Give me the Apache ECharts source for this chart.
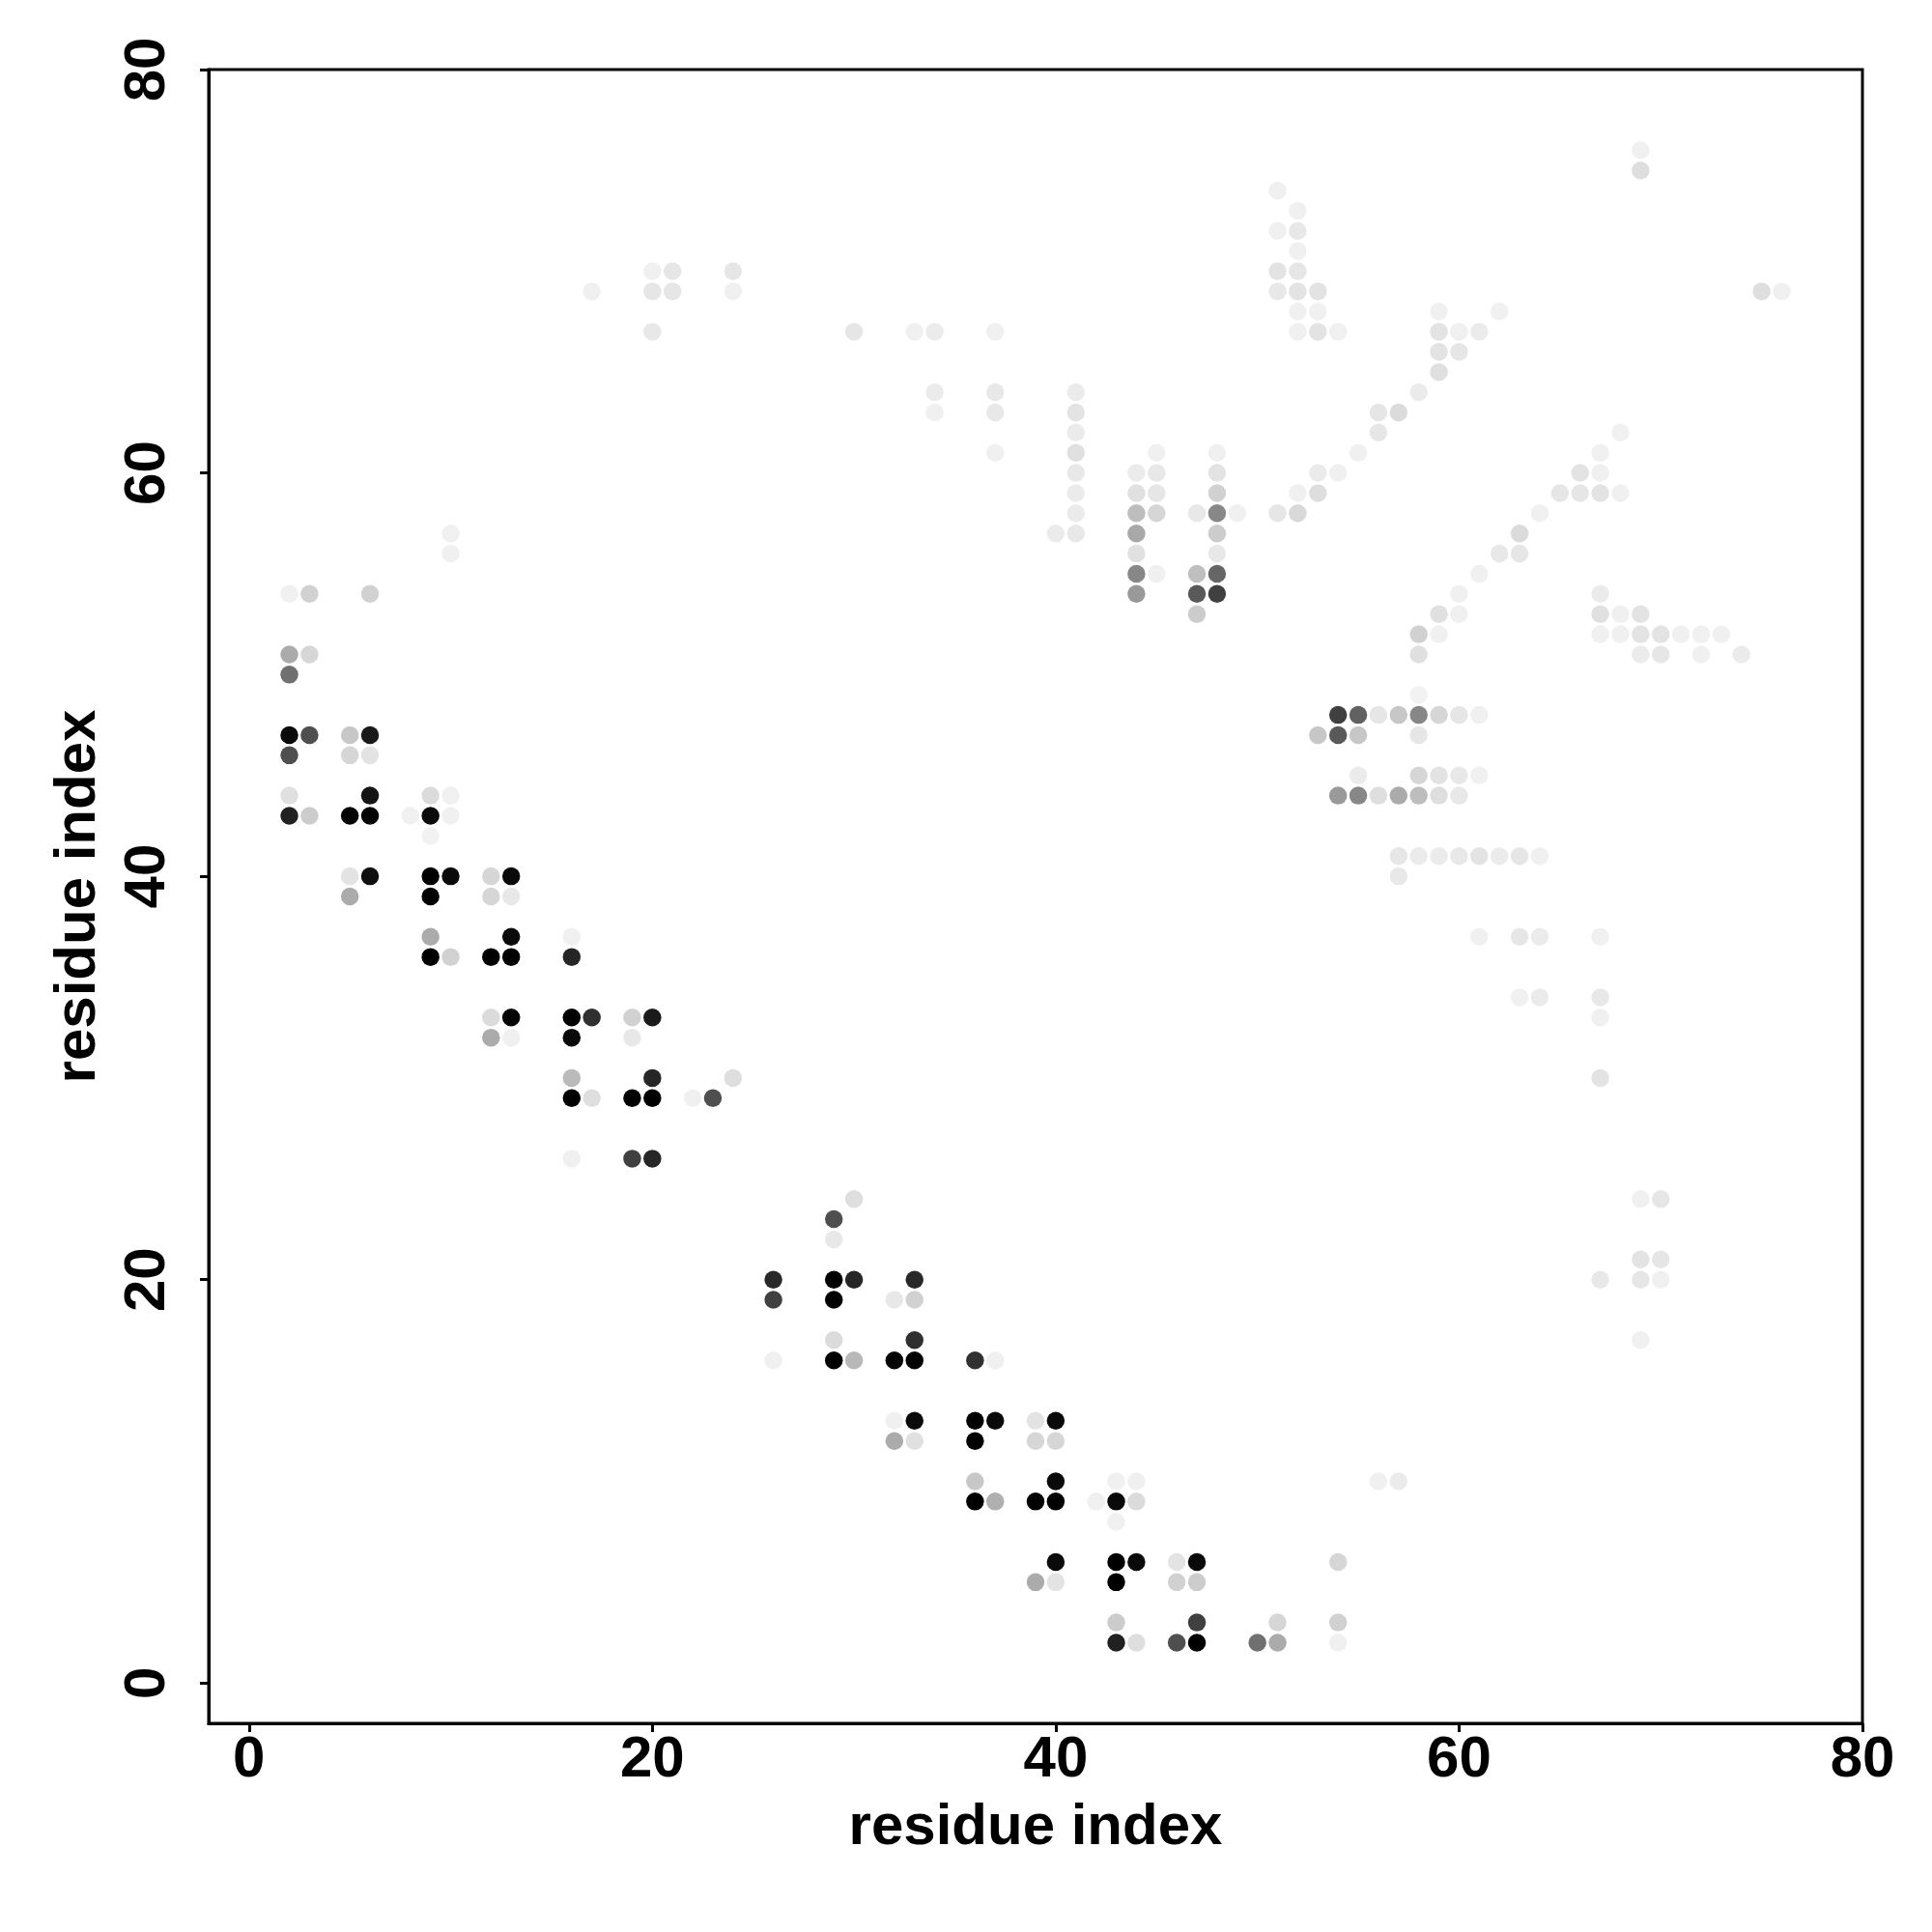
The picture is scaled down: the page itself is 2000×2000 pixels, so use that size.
<!DOCTYPE html>
<html>
<head>
<meta charset="utf-8">
<script src="https://cdn.jsdelivr.net/npm/echarts@6/dist/echarts.min.js"></script>
<style>html,body{margin:0;padding:0;background:#fff}#c{width:2000px;height:2000px}</style>
</head>
<body>
<div id="c"></div>
<script>
// residue i (x), residue j (y), contact frequency (darkness 0..1)
const residueI = [
  20,21,24,17,20,21,24,20,10,10,2,3,6,
  51,52,51,52,52,51,52,51,52,53,52,53,52,53,54,30,33,34,37,34,34,37,37,37,41,41,41,41,41,41,41,41,40,45,44,45,44,45,44,45,44,44,44,45,44,48,48,48,47,48,49,48,48,47,48,47,48,47,53,54,52,53,51,52,
  69,69,75,76,59,62,59,60,61,59,60,59,58,56,57,56,55,68,67,66,67,65,66,67,68,64,63,62,63,61,60,59,60,67,67,68,69,
  58,59,67,68,69,70,71,72,73,58,69,70,72,74,58,54,55,56,57,58,59,60,61,53,54,55,58,55,58,59,60,61,54,55,56,57,58,59,60,57,58,59,60,61,62,63,64,57,61,63,64,67,63,64,67,67,67,
  69,70,69,70,67,69,70,69,56,57,54,54,54,
  2,3,2,2,3,2,5,6,5,6,2,2,3,6,5,6,9,10,8,9,10,9,5,6,5,9,10,9,12,13,12,13,9,9,10,13,12,13,16,16,12,13,12,13,16,17,16,19,20,19,16,16,17,20,19,20,22,23,24,16,19,20,
  30,29,29,26,26,29,30,29,33,32,33,26,29,29,30,33,32,33,36,37,32,33,32,33,36,37,36,39,40,39,40,36,36,37,40,39,40,42,43,43,44,44,43,40,39,40,43,44,43,46,47,46,47,43,43,44,47,46,47,51,50,51
];
const residueJ = [
  70,70,70,69,69,69,69,67,57,56,54,54,54,
  74,73,72,72,71,70,70,69,69,69,68,68,67,67,67,67,67,67,67,64,63,64,63,61,64,63,62,61,60,59,58,57,57,61,60,60,59,59,58,58,57,56,55,55,54,61,60,59,58,58,58,57,56,55,55,54,54,53,60,60,59,59,58,58,
  76,75,69,69,68,68,67,67,67,66,66,65,64,63,63,62,61,62,61,60,60,59,59,59,59,58,57,56,56,55,54,53,53,54,53,53,53,
  52,52,52,52,52,52,52,52,52,51,51,51,51,51,49,48,48,48,48,48,48,48,48,47,47,47,47,45,45,45,45,45,44,44,44,44,44,44,44,41,41,41,41,41,41,41,41,40,37,37,37,37,34,34,34,33,30,
  24,24,21,21,20,20,20,17,10,10,6,3,2,
  51,51,50,47,47,46,47,47,46,46,44,43,43,44,43,43,44,44,43,43,43,42,40,40,39,40,40,39,40,40,39,39,37,36,36,37,36,36,37,36,33,33,32,32,33,33,32,33,33,32,30,29,29,30,29,29,29,29,30,26,26,26,
  24,23,22,20,19,20,20,19,20,19,19,16,17,16,16,17,16,16,16,16,13,13,12,12,13,13,12,13,13,12,12,10,9,9,10,9,9,9,9,10,10,9,8,6,5,5,6,6,5,6,6,5,5,3,2,2,3,2,2,3,2,2
];
const contactFreq = [
  .06,.10,.10,.06,.10,.10,.06,.09,.06,.06,.06,.18,.18,
  .06,.06,.06,.09,.06,.11,.10,.09,.11,.11,.06,.06,.06,.11,.06,.10,.06,.08,.06,.08,.06,.09,.09,.06,.08,.11,.08,.12,.09,.08,.08,.09,.08,.06,.08,.09,.12,.10,.26,.16,.34,.12,.47,.06,.40,.06,.11,.18,.09,.47,.06,.20,.09,.25,.60,.65,.75,.20,.08,.06,.06,.13,.10,.15,
  .06,.13,.13,.06,.06,.06,.11,.06,.08,.11,.10,.12,.08,.10,.14,.10,.06,.06,.06,.11,.06,.10,.10,.11,.06,.06,.14,.09,.10,.06,.06,.12,.06,.08,.12,.06,.11,
  .18,.06,.06,.06,.11,.11,.06,.06,.06,.12,.08,.10,.06,.08,.05,.75,.62,.10,.22,.47,.16,.10,.06,.22,.65,.22,.10,.08,.16,.11,.09,.06,.40,.47,.13,.33,.26,.13,.09,.10,.08,.08,.09,.11,.08,.10,.06,.09,.06,.10,.08,.06,.06,.08,.09,.06,.11,
  .06,.10,.11,.10,.09,.10,.06,.06,.06,.08,.16,.18,.06,
  .33,.16,.56,.96,.69,.69,.22,.90,.16,.11,.12,.87,.20,.92,.98,.98,.14,.06,.06,.96,.06,.05,.11,.94,.33,1,.96,1,.16,.96,.16,.09,.33,1,.18,.96,1,1,.06,.85,.14,.98,.33,.06,1,.81,.96,.18,.90,.09,.27,1,.13,.85,1,1,.06,.69,.13,.06,.75,.85,
  .13,.69,.09,.84,.75,1,.85,1,.84,.09,.18,.06,.14,1,.28,.81,.98,1,.81,.06,.06,.96,.33,.12,1,.96,1,.11,.96,.16,.16,.22,1,.31,.96,1,1,.06,.96,.06,.06,.14,.06,.96,.33,.11,1,.96,1,.11,.96,.18,.20,.20,.87,.13,.75,.69,1,.16,.56,.33
];
const tickValues = [0, 20, 40, 60, 80];
const axisTitle = 'residue index';

const n = Math.min(residueI.length, residueJ.length, contactFreq.length);
const points = [];
for (let k = 0; k < n; k++) points.push([residueI[k], residueJ[k], contactFreq[k]]);

const font = 'Liberation Sans, Arial, Helvetica, sans-serif';
const labelStyle = { fontSize: 60, fontWeight: 'bold', color: '#000', fontFamily: font };

const chart = echarts.init(document.getElementById('c'), null, { renderer: 'canvas' });
chart.setOption({
  backgroundColor: '#ffffff',
  animation: false,
  grid: { left: 216, top: 72, width: 1712, height: 1712, show: true, borderColor: '#000', borderWidth: 3, backgroundColor: 'transparent' },
  xAxis: {
    type: 'value', min: -2, max: 80,
    name: axisTitle, nameLocation: 'middle', nameGap: 78, nameTextStyle: labelStyle,
    axisLine: { show: true, onZero: false, lineStyle: { color: '#000', width: 3 } },
    axisTick: { show: true, inside: false, length: 9, customValues: tickValues, lineStyle: { color: '#000', width: 3 } },
    axisLabel: Object.assign({ customValues: tickValues, margin: 8 }, labelStyle),
    splitLine: { show: false }
  },
  yAxis: {
    type: 'value', min: -2, max: 80,
    name: axisTitle, nameLocation: 'middle', nameGap: 105, nameRotate: 90, nameTextStyle: labelStyle,
    axisLine: { show: true, onZero: false, lineStyle: { color: '#000', width: 3 } },
    axisTick: { show: true, inside: false, length: 9, customValues: tickValues, lineStyle: { color: '#000', width: 3 } },
    axisLabel: Object.assign({ customValues: tickValues, margin: 33, rotate: 90 }, labelStyle),
    splitLine: { show: false }
  },
  visualMap: { show: false, type: 'continuous', dimension: 2, min: 0, max: 1, inRange: { color: ['#ffffff', '#000000'] } },
  series: [{
    type: 'scatter', data: points, symbol: 'circle', symbolSize: 18.5,
    itemStyle: { opacity: 1 }, emphasis: { disabled: true }
  }]
});
</script>
</body>
</html>
